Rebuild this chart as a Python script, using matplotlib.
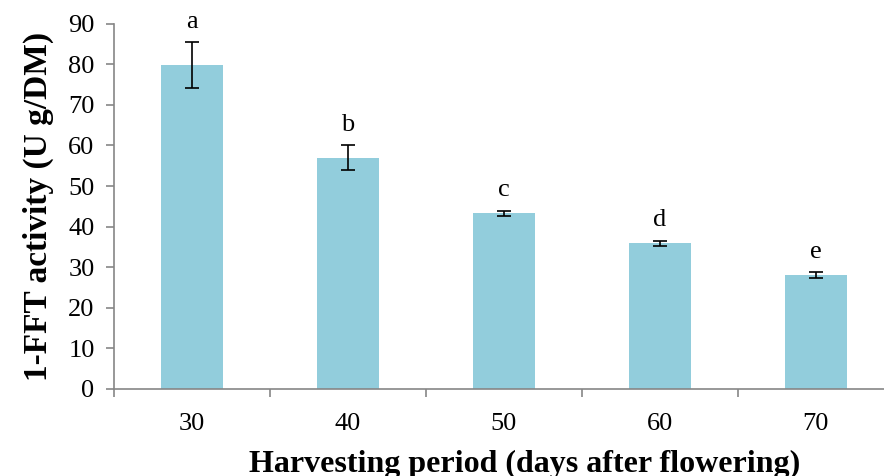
import matplotlib.pyplot as plt

plt.rcParams['font.family'] = ['Liberation Serif', 'DejaVu Serif']

days = ['30', '40', '50', '60', '70']
activity = [79.8, 57.0, 43.3, 35.9, 28.1]
errors = [5.7, 3.0, 0.6, 0.6, 0.7]
letters = ['a', 'b', 'c', 'd', 'e']

fig = plt.figure(figsize=(8.84, 4.76), dpi=100)
# the axis runs a little past the right edge of the figure
ax = fig.add_axes([0.129, 0.183, 0.882, 0.767])

x = range(len(days))
ax.bar(x, activity, width=0.40, color='#92CDDC', zorder=2)
ax.errorbar(x, activity, yerr=errors, fmt='none', ecolor='black',
            elinewidth=1.2, capsize=5, capthick=1.2, zorder=3)

# significance letters above each error bar
for i in x:
    ax.text(i, activity[i] + errors[i] + 2.3, letters[i], ha='center',
            va='bottom', fontsize=19)

ax.set_xlim(-0.5, len(days) - 0.5)
ax.set_ylim(0, 90)
ax.set_yticks(range(0, 91, 10))
ax.set_xticks(list(x))
ax.set_xticklabels(days)
ax.set_xticks([i + 0.5 for i in range(-1, len(days))], minor=True)

for side in ['top', 'right']:
    ax.spines[side].set_visible(False)
for side in ['left', 'bottom']:
    ax.spines[side].set_color('#868686')
    ax.spines[side].set_linewidth(1.2)

ax.tick_params(axis='y', labelsize=19, length=6, color='#868686', width=1.2,
               pad=8)
ax.tick_params(axis='x', which='major', labelsize=19, length=0, pad=17)
ax.tick_params(axis='x', which='minor', length=6, color='#868686', width=1.2)

ax.set_xlabel('Harvesting period (days after flowering)', fontsize=23,
              fontweight='bold')
ax.xaxis.set_label_coords(0.526, -0.168)
ax.set_ylabel('1-FFT activity (U g/DM)', fontsize=24, fontweight='bold',
              labelpad=10)

fig.savefig('out.png', dpi=100)
